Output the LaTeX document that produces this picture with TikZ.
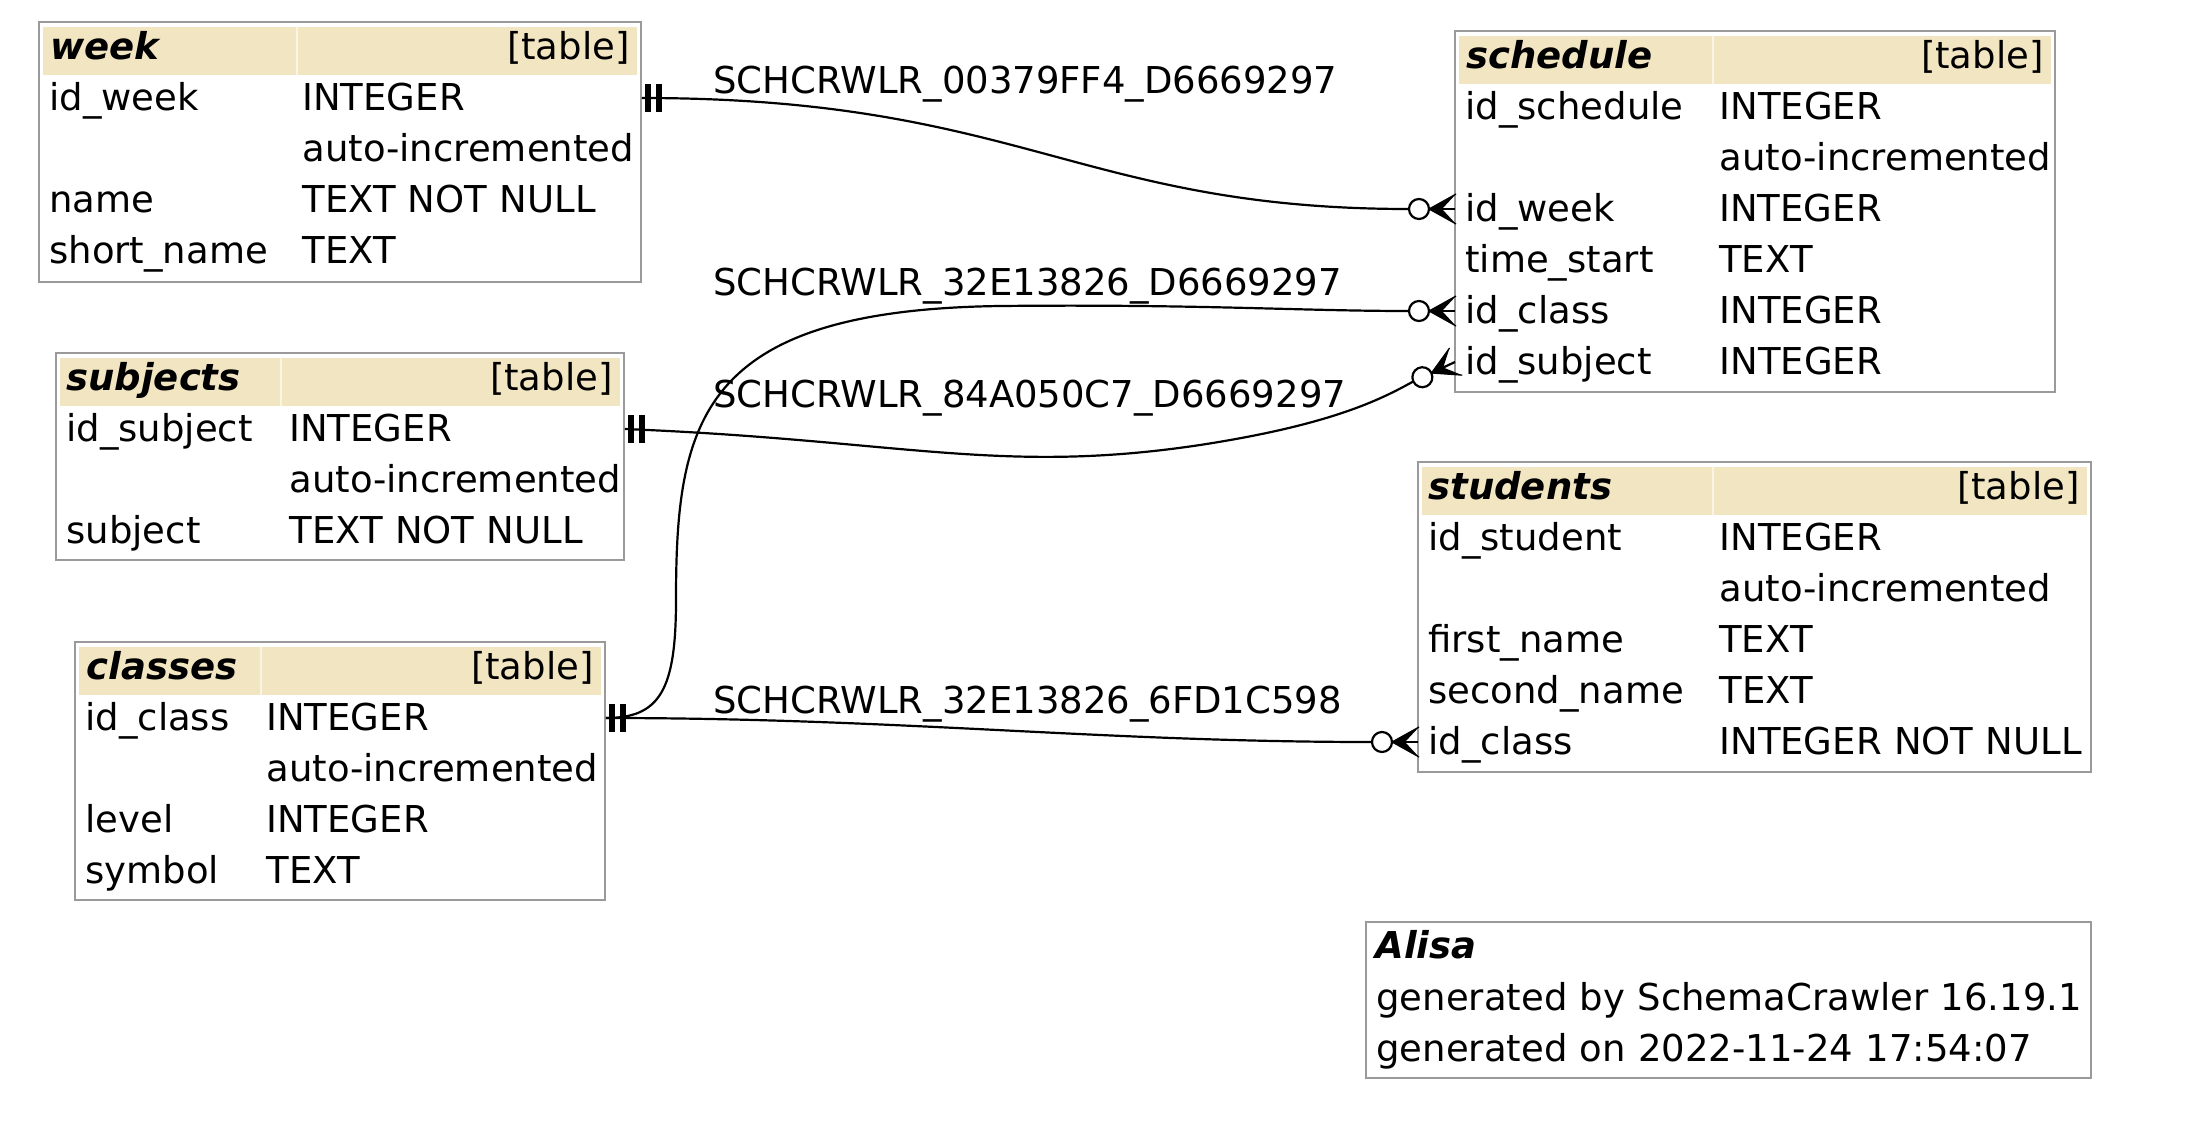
\documentclass[tikz,border=0pt]{standalone}
\usepackage{fontspec}
\setmainfont{DejaVu Sans}
\usetikzlibrary{positioning}

\definecolor{hdrfill}{HTML}{F2E6C2}
\definecolor{boxline}{HTML}{9A9A9A}
\newcommand{\fcol}[3]{\mbox{\makebox[#1][l]{#2}#3}}

\tikzset{
  teetee/.pic={
    \fill (3,-14) rectangle (9,14);
    \fill (14,-14) rectangle (20,14);
  },
  crowodot/.pic={
    \draw[line width=1.1pt, fill=white] (-36,0) circle[radius=5pt];
    \fill (-26,0) -- (1,-15) -- (-13,0) -- (1,15) -- cycle;
    \draw[line width=0.6pt] (1,-15) -- (-26,0) -- (1,15);
    \draw[line width=1.1pt] (-26,0) -- (0,0);
  }
}

\begin{document}
\begin{tikzpicture}[
    x=0.5pt, y=-0.5pt,
    font=\fontsize{18.5}{22}\selectfont,
    tbl/.style={draw=boxline, line width=1pt, anchor=north west, inner sep=0pt, outer sep=0pt},
    field/.style={anchor=west, inner xsep=5pt, inner ysep=0pt, text width=#1, align=left, minimum height=25pt, text height=12pt, text depth=0pt},
    hname/.style={anchor=west, inner sep=0pt, text height=12pt, text depth=0pt, font=\fontsize{18.5}{22}\selectfont\bfseries\itshape},
    htag/.style={anchor=east, inner sep=0pt, text height=12pt, text depth=0pt},
    fklabel/.style={anchor=west, inner sep=0pt, text height=12pt, text depth=0pt},
    hdr/.style={fill=hdrfill},
    hsep/.style={draw=white!55!hdrfill, line width=0.6pt},
    rel/.style={line width=1.1pt}
  ]
  \path[use as bounding box, fill=white] (0,0) rectangle (2186,1120);

  % week
  \node[tbl, minimum width=301pt, minimum height=130pt] (week) at (39,22) {};
  \fill[hdr] ([shift={(4,5)}]week.north west) rectangle ([shift={(-4,53)}]week.north east);
  \draw[hsep] ([shift={(258,5)}]week.north west) -- ([shift={(258,53)}]week.north west);
  \node[hname] (week-h) at (50,47) {week};
  \node[htag] (week-t) at (630,47) {[table]};
  \node[field=291pt] (week-id) at (39,98) {\fcol{126.5pt}{id\_week}{INTEGER}};
  \node[field=291pt] (week-ai) at (39,149) {\fcol{126.5pt}{}{auto-incremented}};
  \node[field=291pt] (week-nm) at (39,200) {\fcol{126.5pt}{name}{TEXT NOT NULL}};
  \node[field=291pt] (week-sn) at (39,251) {\fcol{126.5pt}{short\_name}{TEXT}};

  % schedule
  \node[tbl, minimum width=300pt, minimum height=180.5pt] (sched) at (1455,31) {};
  \fill[hdr] ([shift={(4,5)}]sched.north west) rectangle ([shift={(-4,53)}]sched.north east);
  \draw[hsep] ([shift={(258,5)}]sched.north west) -- ([shift={(258,53)}]sched.north west);
  \node[hname] (sched-h) at (1466,56) {schedule};
  \node[htag] (sched-t) at (2044,56) {[table]};
  \node[field=290pt] (sched-id) at (1455,107) {\fcol{127pt}{id\_schedule}{INTEGER}};
  \node[field=290pt] (sched-ai) at (1455,158) {\fcol{127pt}{}{auto-incremented}};
  \node[field=290pt] (sched-week) at (1455,209) {\fcol{127pt}{id\_week}{INTEGER}};
  \node[field=290pt] (sched-time) at (1455,260) {\fcol{127pt}{time\_start}{TEXT}};
  \node[field=290pt] (sched-class) at (1455,311) {\fcol{127pt}{id\_class}{INTEGER}};
  \node[field=290pt] (sched-subj) at (1455,362) {\fcol{127pt}{id\_subject}{INTEGER}};

  % subjects
  \node[tbl, minimum width=284pt, minimum height=103.5pt] (subj) at (56,353) {};
  \fill[hdr] ([shift={(4,5)}]subj.north west) rectangle ([shift={(-4,53)}]subj.north east);
  \draw[hsep] ([shift={(225,5)}]subj.north west) -- ([shift={(225,53)}]subj.north west);
  \node[hname] (subj-h) at (66,378) {subjects};
  \node[htag] (subj-t) at (613,378) {[table]};
  \node[field=274pt] (subj-id) at (56,429) {\fcol{111.5pt}{id\_subject}{INTEGER}};
  \node[field=274pt] (subj-ai) at (56,480) {\fcol{111.5pt}{}{auto-incremented}};
  \node[field=274pt] (subj-nm) at (56,531) {\fcol{111.5pt}{subject}{TEXT NOT NULL}};

  % classes
  \node[tbl, minimum width=265pt, minimum height=129pt] (classes) at (75,642) {};
  \fill[hdr] ([shift={(4,5)}]classes.north west) rectangle ([shift={(-4,53)}]classes.north east);
  \draw[hsep] ([shift={(186,5)}]classes.north west) -- ([shift={(186,53)}]classes.north west);
  \node[hname] (classes-h) at (86,667) {classes};
  \node[htag] (classes-t) at (594,667) {[table]};
  \node[field=255pt] (classes-id) at (75,718) {\fcol{90.5pt}{id\_class}{INTEGER}};
  \node[field=255pt] (classes-ai) at (75,769) {\fcol{90.5pt}{}{auto-incremented}};
  \node[field=255pt] (classes-lv) at (75,820) {\fcol{90.5pt}{level}{INTEGER}};
  \node[field=255pt] (classes-sy) at (75,871) {\fcol{90.5pt}{symbol}{TEXT}};

  % students
  \node[tbl, minimum width=336.5pt, minimum height=155pt] (stud) at (1418,462) {};
  \fill[hdr] ([shift={(4,5)}]stud.north west) rectangle ([shift={(-4,53)}]stud.north east);
  \draw[hsep] ([shift={(295,5)}]stud.north west) -- ([shift={(295,53)}]stud.north west);
  \node[hname] (stud-h) at (1428,487) {students};
  \node[htag] (stud-t) at (2080,487) {[table]};
  \node[field=326.5pt] (stud-id) at (1418,538) {\fcol{145.5pt}{id\_student}{INTEGER}};
  \node[field=326.5pt] (stud-ai) at (1418,589) {\fcol{145.5pt}{}{auto-incremented}};
  \node[field=326.5pt] (stud-fn) at (1418,640) {\fcol{145.5pt}{first\_name}{TEXT}};
  \node[field=326.5pt] (stud-sn) at (1418,691) {\fcol{145.5pt}{second\_name}{TEXT}};
  \node[field=326.5pt] (stud-class) at (1418,742) {\fcol{145.5pt}{id\_class}{INTEGER NOT NULL}};

  % legend
  \node[tbl, minimum width=362.5pt, minimum height=78pt] (info) at (1366,922) {};
  \node[hname] (info-h) at (1375,946) {Alisa};
  \node[field=352.5pt] (info-by) at (1366,998) {\mbox{generated by SchemaCrawler 16.19.1}};
  \node[field=352.5pt] (info-on) at (1366,1049) {\mbox{generated on 2022-11-24 17:54:07}};

  % foreign keys
  \node[fklabel] (fk1) at (713,81) {SCHCRWLR\_00379FF4\_D6669297};
  \node[fklabel] (fk2) at (713,283) {SCHCRWLR\_32E13826\_D6669297};
  \node[fklabel] (fk3) at (713,395) {SCHCRWLR\_84A050C7\_D6669297};
  \node[fklabel] (fk4) at (713,701) {SCHCRWLR\_32E13826\_6FD1C598};

  \draw[rel] (week-id.east) .. controls (1021,98) and (1079,209) .. ([xshift=-23pt]sched-week.west);
  \draw[rel] (classes-id.east) .. controls (660,718) and (676,690) .. (676,600)
    .. controls (676,420) and (700,310) .. (1000,306)
    .. controls (1200,304) and (1300,311) .. ([xshift=-23pt]sched-class.west);
  \draw[rel] (subj-id.east) .. controls (900,440) and (1000,475) .. (1200,445)
    .. controls (1330,425) and (1380,400) .. ([shift={(-41.7,19.4)}]sched-subj.west);
  \draw[rel] (classes-id.east) .. controls (900,718) and (1100,742) .. ([xshift=-23pt]stud-class.west);

  \pic at (week-id.east) {teetee};
  \pic at (subj-id.east) {teetee};
  \pic at (classes-id.east) {teetee};
  \pic at (sched-week.west) {crowodot};
  \pic at (sched-class.west) {crowodot};
  \pic[rotate=25] at (sched-subj.west) {crowodot};
  \pic at (stud-class.west) {crowodot};
\end{tikzpicture}
\end{document}
